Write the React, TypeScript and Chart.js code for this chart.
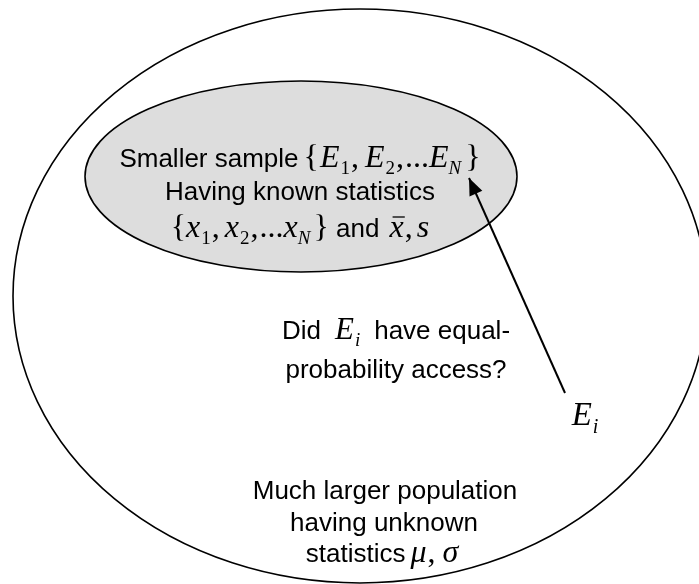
import React, { useEffect, useRef } from "react";
import { Chart, registerables } from "chart.js";

Chart.register(...registerables);

// ---- diagram data (coordinates in the diagram's own units) ----
const regionNames = ["Much larger population", "Smaller sample"];
const regionCenterX = [360, 301];
const regionCenterY = [296, 176.5];
const regionRadiusX = [347, 216];
const regionRadiusY = [287, 95.5];
const regionFill = ["rgba(0,0,0,0)", "#dddddd"];

const arrowX = [565, 469];
const arrowY = [393, 178];

const SANS = '"Liberation Sans", Arial, sans-serif';
const SERIF = '"Liberation Serif", "Times New Roman", serif';
const sans = `26px ${SANS}`;
const it = `italic 32px ${SERIF}`;
const up = `32px ${SERIF}`;
const sub = `19px ${SERIF}`;
const subIt = `italic 19px ${SERIF}`;

type Run = { t: string; f: string; dy?: number; gap?: number; bar?: boolean };

const sampleLines: Run[][] = [
  [
    { t: "Smaller sample", f: sans },
    { t: "{", f: up, gap: 5 },
    { t: "E", f: it, gap: 1 },
    { t: "1", f: sub, dy: 7, gap: 1 },
    { t: ",", f: up, gap: 1 },
    { t: "E", f: it, gap: 6 },
    { t: "2", f: sub, dy: 7, gap: 1 },
    { t: ",", f: up, gap: 1 },
    { t: "...", f: up, gap: 1 },
    { t: "E", f: it },
    { t: "N", f: subIt, dy: 7 },
    { t: "}", f: up, gap: 4 },
  ],
  [{ t: "Having known statistics", f: sans }],
  [
    { t: "{", f: up },
    { t: "x", f: it },
    { t: "1", f: sub, dy: 7, gap: 1 },
    { t: ",", f: up, gap: 1 },
    { t: "x", f: it, gap: 5 },
    { t: "2", f: sub, dy: 7, gap: 1 },
    { t: ",", f: up, gap: 1 },
    { t: "...", f: up, gap: 1 },
    { t: "x", f: it },
    { t: "N", f: subIt, dy: 7 },
    { t: "}", f: up, gap: 3 },
    { t: " and ", f: sans },
    { t: "x", f: it, bar: true, gap: 3 },
    { t: ",", f: up, gap: 1 },
    { t: "s", f: it, gap: 4 },
  ],
];
const sampleTextX = [300, 300, 300];
const sampleTextY = [167, 200, 237];

const questionLines: Run[][] = [
  [
    { t: "Did", f: sans },
    { t: "E", f: `italic 31px ${SERIF}`, gap: 14 },
    { t: "i", f: `italic 19px ${SERIF}`, dy: 7, gap: 1 },
    { t: "have equal-", f: sans, gap: 14 },
  ],
  [{ t: "probability access?", f: sans }],
];
const questionTextX = [396, 396];
const questionTextY = [339, 378];

const elementLabel: Run[][] = [
  [
    { t: "E", f: `italic 33px ${SERIF}` },
    { t: "i", f: `italic 20px ${SERIF}`, dy: 8, gap: 1 },
  ],
];
const elementTextX = [585];
const elementTextY = [425];

const populationLines: Run[][] = [
  [{ t: "Much larger population", f: sans }],
  [{ t: "having unknown", f: sans }],
  [
    { t: "statistics", f: sans },
    { t: "μ", f: it, gap: 5 },
    { t: ",", f: up, gap: 1 },
    { t: "σ", f: it, gap: 7 },
  ],
];
const populationTextX = [385, 384, 382];
const populationTextY = [499, 531, 562];

function drawRuns(ctx: CanvasRenderingContext2D, runs: Run[], cx: number, by: number) {
  let total = 0;
  const widths = runs.map((r) => {
    ctx.font = r.f;
    const w = ctx.measureText(r.t).width;
    total += w + (r.gap || 0);
    return w;
  });
  let x = cx - total / 2;
  ctx.fillStyle = "#000";
  ctx.textBaseline = "alphabetic";
  ctx.textAlign = "left";
  runs.forEach((r, i) => {
    x += r.gap || 0;
    ctx.font = r.f;
    ctx.fillText(r.t, x, by + (r.dy || 0));
    if (r.bar) {
      ctx.save();
      ctx.strokeStyle = "#000";
      ctx.lineWidth = 1.3;
      ctx.beginPath();
      ctx.moveTo(x + 3, by - 20);
      ctx.lineTo(x + widths[i] + 1, by - 20);
      ctx.stroke();
      ctx.restore();
    }
    x += widths[i];
  });
}

const diagramPlugin = {
  id: "diagram",
  beforeDatasetsDraw(chart: any) {
    const { ctx, scales } = chart;
    const xs = scales.x;
    const ys = scales.y;
    ctx.save();
    regionNames.forEach((_, i) => {
      const cx = xs.getPixelForValue(regionCenterX[i]);
      const cy = ys.getPixelForValue(regionCenterY[i]);
      const rx = Math.abs(xs.getPixelForValue(regionCenterX[i] + regionRadiusX[i]) - cx);
      const ry = Math.abs(ys.getPixelForValue(regionCenterY[i] + regionRadiusY[i]) - cy);
      ctx.beginPath();
      ctx.ellipse(cx, cy, rx, ry, 0, 0, Math.PI * 2);
      ctx.fillStyle = regionFill[i];
      ctx.fill();
      ctx.strokeStyle = "#000";
      ctx.lineWidth = 1.6;
      ctx.stroke();
    });
    ctx.restore();
  },
  afterDatasetsDraw(chart: any) {
    const { ctx, scales } = chart;
    const xs = scales.x;
    const ys = scales.y;
    ctx.save();
    // arrowhead
    const x0 = xs.getPixelForValue(arrowX[0]);
    const y0 = ys.getPixelForValue(arrowY[0]);
    const x1 = xs.getPixelForValue(arrowX[1]);
    const y1 = ys.getPixelForValue(arrowY[1]);
    const a = Math.atan2(y1 - y0, x1 - x0);
    const L = 17;
    const W = 7;
    const bx = x1 - L * Math.cos(a);
    const by = y1 - L * Math.sin(a);
    ctx.beginPath();
    ctx.moveTo(x1, y1);
    ctx.lineTo(bx + W * Math.sin(a), by - W * Math.cos(a));
    ctx.lineTo(bx - W * Math.sin(a), by + W * Math.cos(a));
    ctx.closePath();
    ctx.fillStyle = "#000";
    ctx.fill();

    const groups: [Run[][], number[], number[]][] = [
      [sampleLines, sampleTextX, sampleTextY],
      [questionLines, questionTextX, questionTextY],
      [elementLabel, elementTextX, elementTextY],
      [populationLines, populationTextX, populationTextY],
    ];
    groups.forEach(([lines, tx, ty]) => {
      lines.forEach((runs, i) => {
        drawRuns(ctx, runs, xs.getPixelForValue(tx[i]), ys.getPixelForValue(ty[i]));
      });
    });
    ctx.restore();
  },
};

export default function App() {
  const ref = useRef<HTMLCanvasElement | null>(null);
  useEffect(() => {
    if (!ref.current) return;
    const chart = new Chart(ref.current, {
      type: "scatter",
      data: {
        datasets: [
          {
            label: "access",
            data: arrowX.map((x, i) => ({ x, y: arrowY[i] })),
            showLine: true,
            borderColor: "#000",
            borderWidth: 2,
            pointRadius: 0,
          },
        ],
      },
      options: {
        responsive: false,
        animation: false,
        layout: { padding: 0 },
        scales: {
          x: { type: "linear", min: 0, max: 699, display: false },
          y: { type: "linear", min: 0, max: 584, reverse: true, display: false },
        },
        plugins: { legend: { display: false }, tooltip: { enabled: false } },
      },
      plugins: [diagramPlugin],
    });
    return () => chart.destroy();
  }, []);
  return (
    <div style={{ position: "fixed", left: 0, top: 0, width: 699, height: 584, background: "#fff" }}>
      <canvas ref={ref} width={699} height={584} style={{ display: "block" }} />
    </div>
  );
}
